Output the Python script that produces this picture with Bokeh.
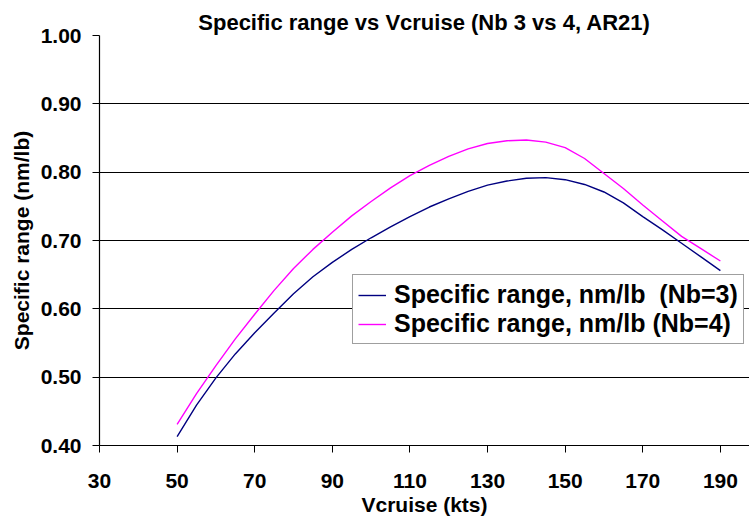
from bokeh.plotting import figure
from bokeh.models import FixedTicker, NumeralTickFormatter, Legend, LegendItem, Range1d
from bokeh.embed import file_html
from bokeh.resources import INLINE

vcruise = [50, 55, 60, 65, 70, 75, 80, 85, 90, 95, 100, 105, 110, 115, 120, 125, 130, 135, 140, 145, 150, 155, 160, 165, 170, 175, 180, 185, 190]
sr_nb3 = [0.413, 0.459, 0.499, 0.534, 0.565, 0.594, 0.622, 0.647, 0.668, 0.687, 0.704, 0.720, 0.735, 0.749, 0.761, 0.772, 0.781, 0.787, 0.791, 0.792, 0.789, 0.782, 0.771, 0.755, 0.735, 0.716, 0.696, 0.676, 0.656]
sr_nb4 = [0.431, 0.476, 0.517, 0.556, 0.592, 0.627, 0.659, 0.687, 0.712, 0.736, 0.757, 0.777, 0.795, 0.810, 0.823, 0.834, 0.842, 0.846, 0.847, 0.844, 0.836, 0.820, 0.798, 0.776, 0.752, 0.729, 0.706, 0.688, 0.670]
x_ticks = [30, 50, 70, 90, 110, 130, 150, 170, 190]
y_ticks = [0.40, 0.50, 0.60, 0.70, 0.80, 0.90, 1.00]
title_text = "Specific range vs Vcruise (Nb 3 vs 4, AR21)"
x_label = "Vcruise (kts)"
y_label = "Specific range (nm/lb)"
label_nb3 = "Specific range, nm/lb  (Nb=3)"
label_nb4 = "Specific range, nm/lb (Nb=4)"

FONT = "Liberation Sans"

p = figure(width=749, height=518, output_backend="svg", toolbar_location=None,
           x_range=Range1d(30, 197.5), y_range=Range1d(0.40, 1.00),
           min_border_left=99, min_border_right=0, min_border_top=35, min_border_bottom=72,
           title=title_text)

p.title.text_font = FONT
p.title.text_font_size = "22px"
p.title.text_font_style = "bold"
p.title.align = "center"
p.title.vertical_align = "middle"
p.title.text_color = "black"
p.title.standoff = 0
p.title.offset = 0

l3 = p.line(vcruise, sr_nb3, line_color="#000080", line_width=1.4)
l4 = p.line(vcruise, sr_nb4, line_color="#FF00FF", line_width=1.4)

p.outline_line_color = None
p.background_fill_color = "white"
p.border_fill_color = "white"

p.xgrid.grid_line_color = None
p.ygrid.grid_line_color = "black"
p.ygrid.grid_line_width = 1
p.ygrid.ticker = FixedTicker(ticks=y_ticks)

for ax in (p.xaxis[0], p.yaxis[0]):
    ax.axis_line_color = "black"
    ax.axis_line_width = 1.2
    ax.major_tick_line_color = "black"
    ax.major_tick_in = 0
    ax.major_tick_out = 7
    ax.minor_tick_line_color = None
    ax.major_label_text_font = FONT
    ax.major_label_text_font_style = "bold"
    ax.major_label_text_font_size = "21px"
    ax.major_label_text_color = "black"
    ax.axis_label_text_font = FONT
    ax.axis_label_text_font_style = "bold"
    ax.axis_label_text_font_size = "21px"
    ax.axis_label_text_color = "black"

p.xaxis.ticker = FixedTicker(ticks=x_ticks)
p.yaxis.ticker = FixedTicker(ticks=y_ticks)
p.yaxis.formatter = NumeralTickFormatter(format="0.00")
p.xaxis.axis_label = x_label
p.yaxis.axis_label = y_label
p.xaxis.major_label_standoff = 21
p.yaxis.major_label_standoff = 11
p.xaxis.axis_label_standoff = 2
p.yaxis.axis_label_standoff = 5

legend = Legend(items=[LegendItem(label=label_nb3, renderers=[l3]),
                       LegendItem(label=label_nb4, renderers=[l4])],
                location=(253, 101))
legend.label_text_font = FONT
legend.label_text_font_style = "bold"
legend.label_text_font_size = "25px"
legend.label_text_color = "black"
legend.border_line_color = "#404040"
legend.border_line_width = 1
legend.background_fill_alpha = 1
legend.padding = 5
legend.margin = 0
legend.spacing = 0
legend.glyph_width = 28
legend.glyph_height = 22
legend.label_height = 22
legend.label_standoff = 8
legend.label_text_line_height = 0.9
p.add_layout(legend, "center")

open("out.html", "w").write(file_html(p, INLINE))
